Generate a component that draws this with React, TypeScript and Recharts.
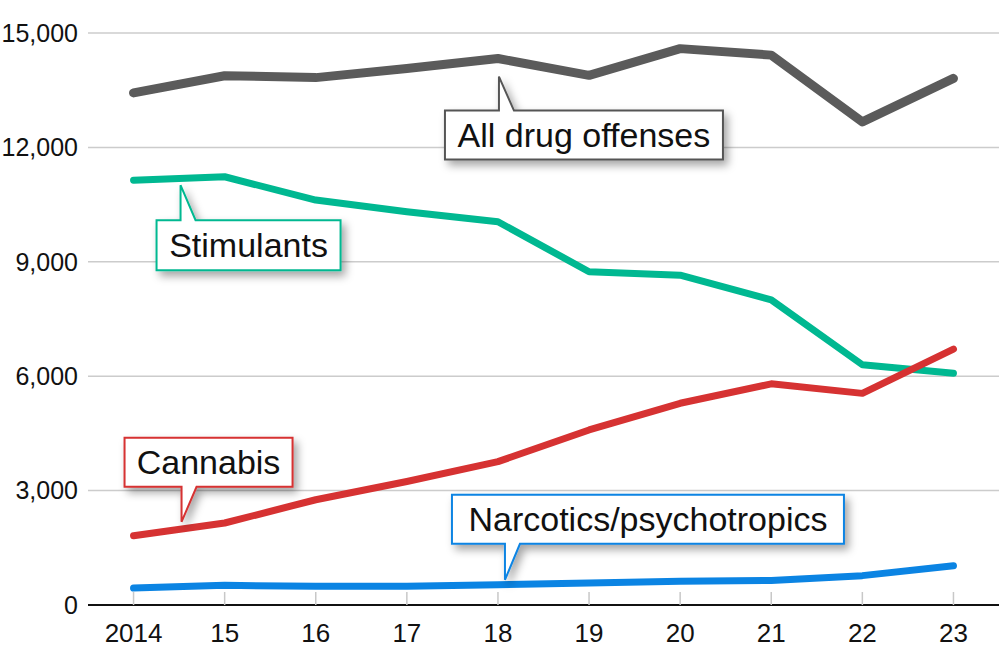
import { LineChart, Line, XAxis, YAxis, CartesianGrid, ReferenceDot } from 'recharts'

const years = ['2014', '15', '16', '17', '18', '19', '20', '21', '22', '23']
const allDrugOffenses = [13430, 13880, 13830, 14070, 14330, 13890, 14590, 14420, 12670, 13810]
const stimulants = [11140, 11230, 10620, 10310, 10050, 8740, 8650, 8000, 6300, 6080]
const cannabis = [1815, 2150, 2760, 3240, 3760, 4590, 5290, 5800, 5550, 6710]
const narcotics = [445, 515, 490, 490, 530, 575, 620, 645, 770, 1030]
const yTicks = [0, 3000, 6000, 9000, 12000, 15000]

const FONT = '"Liberation Sans", Arial, Helvetica, sans-serif'

const COLORS = {
  all: '#5b5b5b',
  stim: '#00b891',
  cannabis: '#d63232',
  narcotics: '#0b84e3',
}

const data = years.map((year, i) => ({
  year,
  all: allDrugOffenses[i],
  stim: stimulants[i],
  cannabis: cannabis[i],
  narcotics: narcotics[i],
}))

interface CalloutOpts {
  id: string
  text: string
  color: string
  dx: number // tip offset from the data point
  dy: number
  left: number // box left, relative to tip
  gap: number // distance between tip and box edge
  w: number
  h: number
  below: boolean // box sits below the tip
}

// speech-bubble label whose pointer tip hangs off a data point
function makeCallout(o: CalloutOpts) {
  return (props: any) => {
    const tx = props.cx + o.dx
    const ty = props.cy + o.dy
    const l = tx + o.left
    const r = l + o.w
    const top = o.below ? ty + o.gap : ty - o.gap - o.h
    const bot = top + o.h
    const d = o.below
      ? `M${l},${top} L${tx},${top} L${tx},${ty} L${tx + 15},${top} L${r},${top} L${r},${bot} L${l},${bot} Z`
      : `M${l},${top} L${r},${top} L${r},${bot} L${tx + 15},${bot} L${tx},${ty} L${tx},${bot} L${l},${bot} Z`
    return (
      <g>
        <defs>
          <filter id={`shadow-${o.id}`} x="-20%" y="-40%" width="140%" height="200%">
            <feDropShadow dx="4" dy="5" stdDeviation="4" floodColor="#000" floodOpacity="0.35" />
          </filter>
        </defs>
        <path d={d} fill="#fff" stroke={o.color} strokeWidth={2} filter={`url(#shadow-${o.id})`} />
        <text
          x={(l + r) / 2}
          y={top + o.h / 2 + 12}
          textAnchor="middle"
          fontFamily={FONT}
          fontSize={34}
          fill="#111"
        >
          {o.text}
        </text>
      </g>
    )
  }
}

function XTick(props: any) {
  const { x, y, payload } = props
  return (
    <g>
      <line x1={x} x2={x} y1={y - 13} y2={y} stroke="#c8c8c8" strokeWidth={1.5} />
      <text x={x} y={y + 37} textAnchor="middle" fontFamily={FONT} fontSize={26} fill="#111">
        {payload.value}
      </text>
    </g>
  )
}

export default function App() {
  return (
    <div style={{ position: 'absolute', left: 0, top: 0, width: 1000, height: 667, background: '#fff' }}>
      <LineChart width={1000} height={667} data={data} margin={{ top: 33, right: 1, bottom: 0, left: 0 }}>
        <CartesianGrid vertical={false} stroke="#cccccc" strokeWidth={1.5} />
        <XAxis
          dataKey="year"
          scale="band"
          height={62}
          tickLine={false}
          tickSize={0}
          tickMargin={0}
          axisLine={{ stroke: '#111', strokeWidth: 2 }}
          tick={<XTick />}
          interval={0}
        />
        <YAxis
          width={88}
          domain={[0, 15000]}
          ticks={yTicks}
          tickLine={false}
          axisLine={false}
          tickSize={0}
          tickMargin={10}
          tickFormatter={(v: number) => v.toLocaleString('en-US')}
          tick={{ fontFamily: FONT, fontSize: 25, fill: '#111' }}
        />
        <Line type="linear" dataKey="all" stroke={COLORS.all} strokeWidth={9} dot={false} strokeLinecap="round" strokeLinejoin="round" isAnimationActive={false} />
        <Line type="linear" dataKey="stim" stroke={COLORS.stim} strokeWidth={7} dot={false} strokeLinecap="round" strokeLinejoin="round" isAnimationActive={false} />
        <Line type="linear" dataKey="cannabis" stroke={COLORS.cannabis} strokeWidth={7} dot={false} strokeLinecap="round" strokeLinejoin="round" isAnimationActive={false} />
        <Line type="linear" dataKey="narcotics" stroke={COLORS.narcotics} strokeWidth={7} dot={false} strokeLinecap="round" strokeLinejoin="round" isAnimationActive={false} />
        <ReferenceDot
          x="18"
          y={allDrugOffenses[4]}
          ifOverflow="visible"
          shape={makeCallout({ id: 'all', text: 'All drug offenses', color: '#555', dx: 1, dy: 18, left: -54, gap: 34, w: 278, h: 49, below: true })}
        />
        <ReferenceDot
          x="2014"
          y={stimulants[0]}
          ifOverflow="visible"
          shape={makeCallout({ id: 'stim', text: 'Stimulants', color: COLORS.stim, dx: 47, dy: 5, left: -24, gap: 35, w: 184, h: 50, below: true })}
        />
        <ReferenceDot
          x="2014"
          y={cannabis[0]}
          ifOverflow="visible"
          shape={makeCallout({ id: 'cannabis', text: 'Cannabis', color: COLORS.cannabis, dx: 48, dy: -14, left: -57, gap: 35, w: 168, h: 49, below: false })}
        />
        <ReferenceDot
          x="18"
          y={narcotics[4]}
          ifOverflow="visible"
          shape={makeCallout({ id: 'narc', text: 'Narcotics/psychotropics', color: COLORS.narcotics, dx: 7, dy: -5, left: -53, gap: 36, w: 392, h: 49, below: false })}
        />
      </LineChart>
    </div>
  )
}
